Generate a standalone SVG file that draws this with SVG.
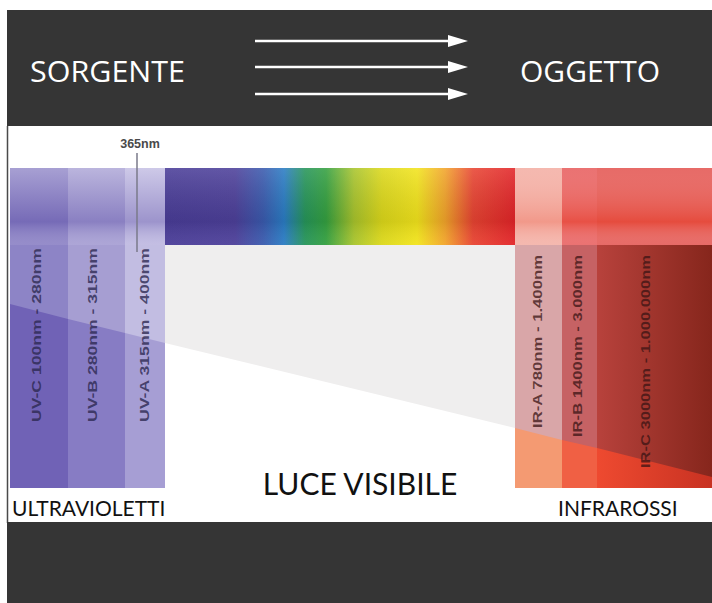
<svg xmlns="http://www.w3.org/2000/svg" width="712" height="603" viewBox="0 0 712 603">
<style>
.hdr{font-family:"Open Sans","Liberation Sans",sans-serif;font-size:29px;fill:#ffffff}
.lbl{font-family:Lato,"Liberation Sans",sans-serif;fill:#111111}
.rot{font-family:"Liberation Sans",Arial,sans-serif;font-weight:bold;font-size:13px}
.uvt{fill:#2c2850;fill-opacity:0.8}
.irt{fill:#3a1414;fill-opacity:0.75}
</style>
<defs>
<linearGradient id="spec" x1="165" y1="0" x2="515" y2="0" gradientUnits="userSpaceOnUse">
<stop offset="0" stop-color="#4a3d98"/>
<stop offset="0.2" stop-color="#4d409a"/>
<stop offset="0.28" stop-color="#3a5aae"/>
<stop offset="0.34" stop-color="#2a7cc4"/>
<stop offset="0.4" stop-color="#26955a"/>
<stop offset="0.46" stop-color="#34a040"/>
<stop offset="0.54" stop-color="#a8c42c"/>
<stop offset="0.62" stop-color="#dcd81a"/>
<stop offset="0.72" stop-color="#f2e41c"/>
<stop offset="0.8" stop-color="#f2a42a"/>
<stop offset="0.88" stop-color="#e84432"/>
<stop offset="1" stop-color="#e22428"/>
</linearGradient>
<linearGradient id="shade" x1="0" y1="168" x2="0" y2="245" gradientUnits="userSpaceOnUse">
<stop offset="0" stop-color="#ffffff" stop-opacity="0.12"/>
<stop offset="0.7" stop-color="#000000" stop-opacity="0.08"/>
<stop offset="1" stop-color="#ffffff" stop-opacity="0.05"/>
</linearGradient>
<linearGradient id="uvTop" x1="0" y1="168" x2="0" y2="245" gradientUnits="userSpaceOnUse">
<stop offset="0" stop-color="#ffffff" stop-opacity="0.25"/>
<stop offset="0.7" stop-color="#3a2a90" stop-opacity="0.25"/>
<stop offset="1" stop-color="#ffffff" stop-opacity="0.1"/>
</linearGradient>
<linearGradient id="irTop" x1="0" y1="168" x2="0" y2="245" gradientUnits="userSpaceOnUse">
<stop offset="0" stop-color="#ffffff" stop-opacity="0.1"/>
<stop offset="0.7" stop-color="#e83010" stop-opacity="0.35"/>
<stop offset="1" stop-color="#ffffff" stop-opacity="0.1"/>
</linearGradient>
<linearGradient id="irc" x1="597" y1="0" x2="712" y2="0" gradientUnits="userSpaceOnUse">
<stop offset="0" stop-color="#b8423c"/>
<stop offset="1" stop-color="#86261c"/>
</linearGradient>
<linearGradient id="ircLow" x1="597" y1="0" x2="712" y2="0" gradientUnits="userSpaceOnUse">
<stop offset="0" stop-color="#ee4a30"/>
<stop offset="1" stop-color="#c83222"/>
</linearGradient>
</defs>

<!-- background frames -->
<rect x="7" y="10" width="705" height="116" fill="#353535"/>
<rect x="7" y="126" width="705" height="397" fill="#ffffff"/>
<line x1="7.5" y1="126" x2="7.5" y2="523" stroke="#4a4a4a" stroke-width="1.5"/>
<rect x="7" y="522" width="705" height="81" fill="#353535"/>

<!-- header -->
<g id="sorgente"><text class="hdr" x="30" y="82" textLength="155" lengthAdjust="spacingAndGlyphs">SORGENTE</text></g>
<g id="oggetto"><text class="hdr" x="520" y="82" textLength="140" lengthAdjust="spacingAndGlyphs">OGGETTO</text></g>
<g id="connectors" stroke="#ffffff" stroke-width="2.5" fill="#ffffff">
<line x1="255" y1="41" x2="452" y2="41"/>
<polygon points="448,35 468,41 448,47" stroke="none"/>
<line x1="255" y1="67" x2="452" y2="67"/>
<polygon points="448,61 468,67 448,73" stroke="none"/>
<line x1="255" y1="94" x2="452" y2="94"/>
<polygon points="448,88 468,94 448,100" stroke="none"/>
</g>

<!-- visible beam -->
<g id="visible">
<polygon points="165,245 515,245 515,428 165,343" fill="#efeeee"/>
<rect x="165" y="168" width="350" height="77" fill="url(#spec)"/>
<rect x="165" y="168" width="350" height="77" fill="url(#shade)"/>
</g>

<!-- UV bands -->
<g id="uv-c">
<rect x="10" y="168" width="58" height="320" fill="#7062b6"/>
<polygon points="10,245 68,245 68,319 10,304" fill="#8d84c6"/>
<rect x="10" y="168" width="58" height="77" fill="#8a80c4"/>
<rect x="10" y="168" width="58" height="77" fill="url(#uvTop)"/>
<text class="rot uvt" transform="translate(41,422) rotate(-90)" textLength="174" lengthAdjust="spacingAndGlyphs">UV-C 100nm - 280nm</text>
</g>
<g id="uv-b">
<rect x="68" y="168" width="57" height="320" fill="#877cc4"/>
<polygon points="68,245 125,245 125,333 68,319" fill="#a69ed2"/>
<rect x="68" y="168" width="57" height="77" fill="#a49cd2"/>
<rect x="68" y="168" width="57" height="77" fill="url(#uvTop)"/>
<text class="rot uvt" transform="translate(97,422) rotate(-90)" textLength="174" lengthAdjust="spacingAndGlyphs">UV-B 280nm - 315nm</text>
</g>
<g id="uv-a">
<rect x="125" y="168" width="40" height="320" fill="#a69ed4"/>
<polygon points="125,245 165,245 165,343 125,333" fill="#c2bde2"/>
<rect x="125" y="168" width="40" height="77" fill="#bdb7e0"/>
<rect x="125" y="168" width="40" height="77" fill="url(#uvTop)"/>
<text class="rot uvt" transform="translate(149,422) rotate(-90)" textLength="174" lengthAdjust="spacingAndGlyphs">UV-A 315nm - 400nm</text>
</g>
<g id="marker-365">
<line x1="137" y1="153" x2="137" y2="252" stroke="#7a7a8a" stroke-width="1.5"/>
<text x="140" y="148" text-anchor="middle" font-family="'Liberation Sans',Arial,sans-serif" font-weight="bold" font-size="12.5" fill="#4a4a4a">365nm</text>
</g>

<!-- IR bands -->
<g id="ir-a">
<rect x="515" y="168" width="47" height="320" fill="#f49a72"/>
<polygon points="515,245 562,245 562,440 515,428" fill="#d9a6a8"/>
<rect x="515" y="168" width="47" height="77" fill="#f4b4aa"/>
<rect x="515" y="168" width="47" height="77" fill="url(#irTop)" opacity="0.6"/>
<text class="rot irt" transform="translate(542,428) rotate(-90)" textLength="173" lengthAdjust="spacingAndGlyphs">IR-A 780nm - 1.400nm</text>
</g>
<g id="ir-b">
<rect x="562" y="168" width="35" height="320" fill="#f06044"/>
<polygon points="562,245 597,245 597,448 562,440" fill="#c66264"/>
<rect x="562" y="168" width="35" height="77" fill="#e86262"/>
<rect x="562" y="168" width="35" height="77" fill="url(#irTop)"/>
<text class="rot irt" transform="translate(582,437) rotate(-90)" textLength="182" lengthAdjust="spacingAndGlyphs">IR-B 1400nm - 3.000nm</text>
</g>
<g id="ir-c">
<rect x="597" y="168" width="115" height="320" fill="url(#ircLow)"/>
<polygon points="597,245 712,245 712,477 597,448" fill="url(#irc)"/>
<rect x="597" y="168" width="115" height="77" fill="#e45a56"/>
<rect x="597" y="168" width="115" height="77" fill="url(#irTop)"/>
<text class="rot irt" transform="translate(650,468) rotate(-90)" textLength="213" lengthAdjust="spacingAndGlyphs">IR-C 3000nm - 1.000.000nm</text>
</g>

<!-- labels -->
<g id="luce-visibile"><text class="lbl" x="360" y="495" text-anchor="middle" font-size="30">LUCE VISIBILE</text></g>
<g id="ultravioletti"><text class="lbl" x="12" y="516" font-size="21">ULTRAVIOLETTI</text></g>
<g id="infrarossi"><text class="lbl" x="558" y="516" font-size="21">INFRAROSSI</text></g>
</svg>
